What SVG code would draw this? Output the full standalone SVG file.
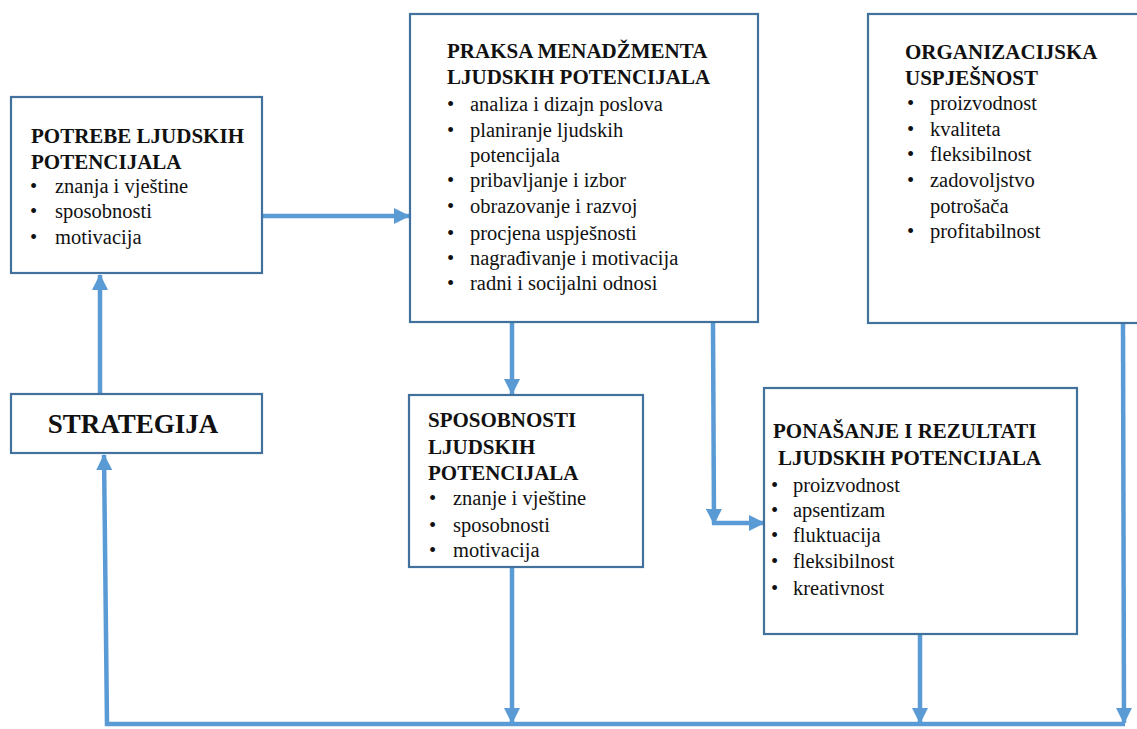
<svg xmlns="http://www.w3.org/2000/svg" width="1137" height="729" viewBox="0 0 1137 729">
<style>
.box{fill:#fff;stroke:#41719C;stroke-width:2.2}
.t{font-family:'Liberation Serif','Tinos','Times New Roman','DejaVu Serif',serif;font-weight:bold;font-size:21px;fill:#111}
.b{font-family:'Liberation Serif','Tinos','Times New Roman','DejaVu Serif',serif;font-size:20.5px;fill:#111}
.c{fill:none;stroke:#5B9BD5;stroke-width:4.5}
</style>
<defs>
<marker id="ah" markerUnits="userSpaceOnUse" markerWidth="16" markerHeight="16" refX="15" refY="8" orient="auto" viewBox="0 0 16 16">
<path d="M0,0 L16,8 L0,16 z" fill="#5B9BD5"/>
</marker>
</defs>
<g id="connectors">
<path class="c" d="M262,216 L409,216" marker-end="url(#ah)"/>
<path class="c" d="M100,394 L100,275" marker-end="url(#ah)"/>
<path class="c" d="M1125,724 L107,724 L104,455" marker-end="url(#ah)"/>
<path class="c" d="M512,323 L512,394" marker-end="url(#ah)"/>
<path class="c" d="M512,568 L512,723" marker-end="url(#ah)"/>
<path class="c" d="M713,323 L714,524" marker-end="url(#ah)"/>
<path class="c" d="M712,523 L764,523" marker-end="url(#ah)"/>
<path class="c" d="M920,635 L920,723" marker-end="url(#ah)"/>
<path class="c" d="M1123,324 L1124,723" marker-end="url(#ah)"/>
</g>
<g id="potrebe">
<rect class="box" x="11" y="97" width="251" height="176"/>
<text class="t" x="31" y="143">POTREBE LJUDSKIH</text>
<text class="t" x="31" y="169">POTENCIJALA</text>
<text class="b" x="30" y="193">•</text><text class="b" x="55" y="193">znanja i vještine</text>
<text class="b" x="30" y="218">•</text><text class="b" x="55" y="218">sposobnosti</text>
<text class="b" x="30" y="244">•</text><text class="b" x="55" y="244">motivacija</text>
</g>
<g id="praksa">
<rect class="box" x="410" y="14" width="348" height="308"/>
<text class="t" x="447" y="58">PRAKSA MENADŽMENTA</text>
<text class="t" x="447" y="84">LJUDSKIH POTENCIJALA</text>
<text class="b" x="447" y="111">•</text><text class="b" x="470" y="111">analiza i dizajn poslova</text>
<text class="b" x="447" y="137">•</text><text class="b" x="470" y="137">planiranje ljudskih</text>
<text class="b" x="470" y="162">potencijala</text>
<text class="b" x="447" y="187">•</text><text class="b" x="470" y="187">pribavljanje i izbor</text>
<text class="b" x="447" y="213">•</text><text class="b" x="470" y="213">obrazovanje i razvoj</text>
<text class="b" x="447" y="240">•</text><text class="b" x="470" y="240">procjena uspješnosti</text>
<text class="b" x="447" y="265">•</text><text class="b" x="470" y="265">nagrađivanje i motivacija</text>
<text class="b" x="447" y="290">•</text><text class="b" x="470" y="290">radni i socijalni odnosi</text>
</g>
<g id="organizacijska">
<rect class="box" x="868" y="14" width="285" height="309"/>
<text class="t" x="905" y="59">ORGANIZACIJSKA</text>
<text class="t" x="905" y="85">USPJEŠNOST</text>
<text class="b" x="907" y="110">•</text><text class="b" x="930" y="110">proizvodnost</text>
<text class="b" x="907" y="136">•</text><text class="b" x="930" y="136">kvaliteta</text>
<text class="b" x="907" y="161">•</text><text class="b" x="930" y="161">fleksibilnost</text>
<text class="b" x="907" y="187">•</text><text class="b" x="930" y="187">zadovoljstvo</text>
<text class="b" x="930" y="213">potrošača</text>
<text class="b" x="907" y="238">•</text><text class="b" x="930" y="238">profitabilnost</text>
</g>
<g id="strategija">
<rect class="box" x="11" y="394" width="251" height="59"/>
<text class="t" x="133" y="433" text-anchor="middle" style="font-size:27px">STRATEGIJA</text>
</g>
<g id="sposobnosti">
<rect class="box" x="409" y="395" width="234" height="172"/>
<text class="t" x="428" y="427">SPOSOBNOSTI</text>
<text class="t" x="428" y="454">LJUDSKIH</text>
<text class="t" x="428" y="480">POTENCIJALA</text>
<text class="b" x="429" y="505">•</text><text class="b" x="453" y="505">znanje i vještine</text>
<text class="b" x="429" y="532">•</text><text class="b" x="453" y="532">sposobnosti</text>
<text class="b" x="429" y="557">•</text><text class="b" x="453" y="557">motivacija</text>
</g>
<g id="ponasanje">
<rect class="box" x="764" y="388" width="313" height="246"/>
<text class="t" x="773" y="438">PONAŠANJE I REZULTATI</text>
<text class="t" x="778" y="465">LJUDSKIH POTENCIJALA</text>
<text class="b" x="771" y="492">•</text><text class="b" x="793" y="492">proizvodnost</text>
<text class="b" x="771" y="517">•</text><text class="b" x="793" y="517">apsentizam</text>
<text class="b" x="771" y="542">•</text><text class="b" x="793" y="542">fluktuacija</text>
<text class="b" x="771" y="568">•</text><text class="b" x="793" y="568">fleksibilnost</text>
<text class="b" x="771" y="595">•</text><text class="b" x="793" y="595">kreativnost</text>
</g>
</svg>
